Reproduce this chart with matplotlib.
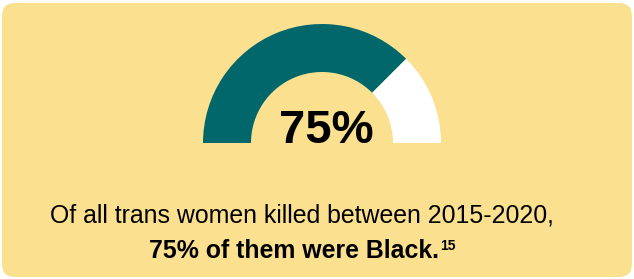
import matplotlib.pyplot as plt
from matplotlib.patches import FancyBboxPatch

plt.rcParams['font.family'] = ['Liberation Sans', 'DejaVu Sans']

share_black = 75
share_other = 100 - share_black
big_label = "75%"
line1 = "Of all trans women killed between 2015-2020,"
line2 = "75% of them were Black."
footnote = "15"

teal = "#02676a"
bg = "#fbe08f"

fig = plt.figure(figsize=(6.34, 2.79), dpi=100)
ax = fig.add_axes([0, 0, 1, 1])

card = FancyBboxPatch((2, 2), 630, 274, boxstyle="round,pad=0,rounding_size=13",
                      facecolor=bg, edgecolor="none")
ax.add_patch(card)

# half donut gauge: third slice is the hidden bottom half
ax.pie([share_black, share_other, 100], colors=[teal, "white", "none"],
       startangle=180, counterclock=False, radius=119, center=(322, 136),
       wedgeprops=dict(width=48, linewidth=0), frame=True)

ax.text(326, 136, big_label, ha="center", va="baseline", fontsize=34,
        fontweight="bold", color="black")
ax.text(302, 56, line1, ha="center", va="baseline", fontsize=17.9, color="black")
t = ax.text(294, 21, line2, ha="center", va="baseline", fontsize=17.9,
            fontweight="bold", color="black")
ax.annotate(footnote, xy=(1, 0), xycoords=t, xytext=(0.5, 9.5),
            textcoords="offset points", ha="left", va="baseline",
            fontsize=10, fontweight="bold")

ax.set_xlim(0, 634)
ax.set_ylim(0, 279)
ax.set_aspect("auto")
ax.axis("off")

fig.savefig("out.png", dpi=100, facecolor="white")
